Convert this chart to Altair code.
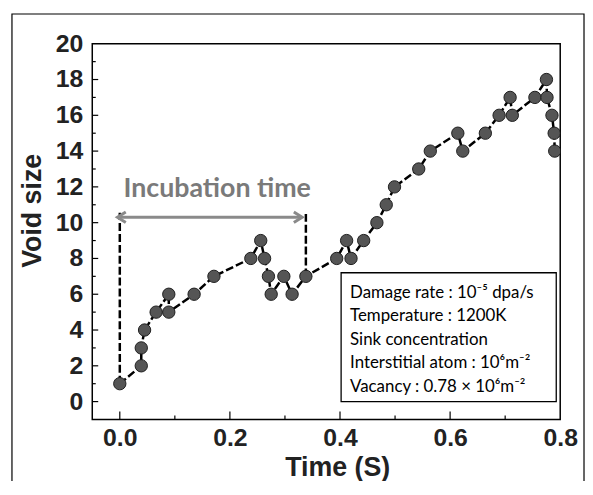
import altair as alt
import pandas as pd

# ---- data ----
time_s = [0.000, 0.039, 0.039, 0.045, 0.066, 0.089, 0.089, 0.135, 0.171, 0.238,
          0.256, 0.263, 0.270, 0.275, 0.298, 0.313, 0.338, 0.394, 0.412, 0.420,
          0.443, 0.467, 0.484, 0.499, 0.543, 0.564, 0.614, 0.623, 0.664, 0.689,
          0.709, 0.713, 0.754, 0.775, 0.776, 0.785, 0.789, 0.790]
void_size = [1, 2, 3, 4, 5, 6, 5, 6, 7, 8,
             9, 8, 7, 6, 7, 6, 7, 8, 9, 8,
             9, 10, 11, 12, 13, 14, 15, 14, 15, 16,
             17, 16, 17, 18, 17, 16, 15, 14]

x_tick_labels = [0.0, 0.2, 0.4, 0.6, 0.8]
y_tick_labels = [0, 2, 4, 6, 8, 10, 12, 14, 16, 18, 20]
x_ticks_major = [0.0, 0.2, 0.4, 0.6]
x_ticks_minor = [0.1, 0.3, 0.5, 0.7]
y_ticks_major = [0, 2, 4, 6, 8, 10, 12, 14, 16, 18]
y_ticks_minor = [1, 3, 5, 7, 9, 11, 13, 15, 17, 19]

incubation_start = [0.0, 0.338]
incubation_from = [1, 7]
incubation_label = "Incubation time"
info_lines = [
    "Damage rate : 10\u207b\u2075  dpa/s",
    "Temperature : 1200K",
    "Sink concentration",
    "Interstitial atom : 10\u2076m\u207b\u00b2",
    "Vacancy : 0.78 \u00d7 10\u2076m\u207b\u00b2",
]

W, H = 472, 379
XD = [-0.05, 0.8]
YD = [-1, 20]

df = pd.DataFrame({"t": time_s, "v": void_size, "i": list(range(len(time_s)))})
one = pd.DataFrame({"a": [0]})

xs = alt.Scale(domain=XD, nice=False, zero=False)
ys = alt.Scale(domain=YD, nice=False, zero=False)

AX_FONT = "Liberation Sans"

x_axis = alt.Axis(values=x_tick_labels, format=".1f", title="Time (S)",
                  titleX=247, titleY=49)
y_axis = alt.Axis(values=y_tick_labels, labels=False, title="Void size",
                  titleX=-60, titleY=168, titleAngle=270)

def X(field, **kw):
    return alt.X(field, scale=xs, **kw)

def Y(field, **kw):
    return alt.Y(field, scale=ys, **kw)

base = alt.Chart(df)

line = base.mark_line(color="black", strokeWidth=2.5, strokeDash=[8, 3]).encode(
    x=alt.X("t:Q", scale=xs, axis=x_axis),
    y=alt.Y("v:Q", scale=ys, axis=y_axis),
    order=alt.Order("i:Q"),
)
pts = base.mark_circle(size=155, color="#555555", stroke="#1e1e1e", strokeWidth=1,
                       opacity=1, clip=True).encode(x=X("t:Q"), y=Y("v:Q"))

# y tick labels drawn as text from the tick list
ylab = alt.Chart(pd.DataFrame({"val": y_tick_labels})).mark_text(
    font=AX_FONT, fontWeight="bold", fontSize=25, color="#222", align="right",
    baseline="middle").encode(y=Y("val:Q"), x=alt.value(-9), text=alt.Text("val:Q", format="d"))

# inward tick marks
def tick_df(vals):
    return pd.DataFrame({"val": vals})

yt_major = alt.Chart(tick_df(y_ticks_major)).mark_rule(color="black", strokeWidth=1.2).encode(
    y=Y("val:Q"), x=alt.value(0), x2=alt.value(6))
yt_minor = alt.Chart(tick_df(y_ticks_minor)).mark_rule(color="black", strokeWidth=1.2).encode(
    y=Y("val:Q"), x=alt.value(0), x2=alt.value(3.5))
xt_major = alt.Chart(tick_df(x_ticks_major)).mark_rule(color="black", strokeWidth=1.2).encode(
    x=X("val:Q"), y=alt.value(H), y2=alt.value(H - 8))
xt_minor = alt.Chart(tick_df(x_ticks_minor)).mark_rule(color="black", strokeWidth=1.2).encode(
    x=X("val:Q"), y=alt.value(H), y2=alt.value(H - 4))

# incubation annotation
inc_df = pd.DataFrame({"t": incubation_start, "v0": incubation_from, "v1": [10.55, 10.55]})
inc_rules = alt.Chart(inc_df).mark_rule(color="black", strokeWidth=2.5, strokeDash=[8, 3]).encode(
    x=X("t:Q"), y=Y("v0:Q"), y2="v1:Q")

arrow_df = pd.DataFrame({"t0": [-0.003], "t1": [0.330], "v": [10.3]})
arrow_shaft = alt.Chart(arrow_df).mark_rule(color="#8a8a8a", strokeWidth=3).encode(
    x=X("t0:Q"), x2="t1:Q", y=Y("v:Q"))
head_l = alt.Chart(arrow_df).mark_point(shape="M0.8,-1L-0.8,0L0.8,1", size=110, filled=False,
                                        color="#8a8a8a", strokeWidth=3, opacity=1).encode(
    x=X("t0:Q"), y=Y("v:Q"), xOffset=alt.value(3.5))
head_r = alt.Chart(arrow_df).mark_point(shape="M-0.8,-1L0.8,0L-0.8,1", size=110, filled=False,
                                        color="#8a8a8a", strokeWidth=3, opacity=1).encode(
    x=X("t1:Q"), y=Y("v:Q"), xOffset=alt.value(-3.5))
inc_text = alt.Chart(one).mark_text(font="Lato", fontWeight="bold", fontSize=27, color="#7a7a7a",
                                    align="center", baseline="middle").encode(
    x=alt.value(126), y=alt.value(147), text=alt.value(incubation_label))

# info box
box = alt.Chart(one).mark_rect(fill="white", stroke="black", strokeWidth=1.3).encode(
    x=alt.value(251), x2=alt.value(468), y=alt.value(231), y2=alt.value(361))
info = alt.Chart(one).mark_text(font="Lato", fontSize=17, color="black", align="left",
                                baseline="top", lineBreak="\n", lineHeight=23.7).encode(
    x=alt.value(260), y=alt.value(243), text=alt.value("\n".join(info_lines)))

# outer figure frame
frame = alt.Chart(one).mark_rect(filled=False, stroke="black", strokeWidth=1.2).encode(
    x=alt.value(-81), x2=alt.value(496), y=alt.value(-30), y2=alt.value(480))

chart = alt.layer(
    line, frame, ylab, yt_major, yt_minor, xt_major, xt_minor, inc_rules, arrow_shaft,
    head_l, head_r, inc_text, pts, box, info
).properties(
    width=W, height=H,
    background="white",
    autosize=alt.AutoSizeParams(type="none"),
    padding={"left": 85, "top": 34, "right": 25, "bottom": 60},
).configure_view(
    stroke="black", strokeWidth=1.5
).configure_axis(
    labelFont=AX_FONT, labelFontWeight="bold", labelFontSize=25, labelColor="#222",
    labelFlush=False, labelOverlap=False, labelBound=False,
    ticks=False, tickSize=0, domain=False, grid=False,
    titleFont=AX_FONT, titleFontWeight="bold", titleFontSize=27, titleColor="#222",
    titleBaseline="middle",
).configure_axisX(labelPadding=6)

chart.save("out.html", embed_options={"renderer": "svg", "actions": False})
